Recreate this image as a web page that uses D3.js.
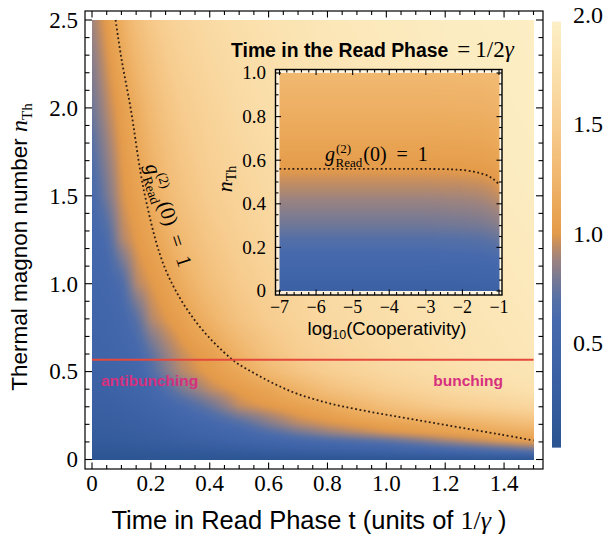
<!DOCTYPE html>
<html>
<head>
<meta charset="utf-8">
<script src="https://cdn.jsdelivr.net/npm/d3@7"></script>
<style>
  body { margin: 0; background: #fff; }
  svg { display: block; }
</style>
</head>
<body>
<div id="chart"></div>
<script>
// ---- main density: g2, rows = nTh, cols = t ----
const tGrid = [0, 0.05, 0.1, 0.15, 0.2, 0.25, 0.3, 0.4, 0.5, 0.6, 0.7, 0.8, 1.0, 1.2, 1.5];
const nGrid = [0, 0.05, 0.1, 0.15, 0.2, 0.3, 0.4, 0.5, 0.6, 0.8, 1.0, 1.25, 1.5, 2.0, 2.5];
const gMain = [
  [0.05, 0.05, 0.05, 0.05, 0.05, 0.05, 0.05, 0.05, 0.05, 0.05, 0.05, 0.05, 0.05, 0.05, 0.05],
  [0.12, 0.12, 0.13, 0.14, 0.15, 0.16, 0.17, 0.2, 0.23, 0.27, 0.31, 0.36, 0.44, 0.55, 0.72],
  [0.19, 0.2, 0.21, 0.23, 0.25, 0.27, 0.3, 0.36, 0.42, 0.48, 0.54, 0.6, 0.7, 0.86, 1.05],
  [0.23, 0.24, 0.26, 0.28, 0.31, 0.34, 0.38, 0.46, 0.54, 0.66, 0.77, 0.86, 0.97, 1.05, 1.17],
  [0.27, 0.28, 0.3, 0.33, 0.36, 0.4, 0.45, 0.55, 0.66, 0.81, 0.92, 0.97, 1.06, 1.14, 1.32],
  [0.32, 0.33, 0.36, 0.4, 0.45, 0.52, 0.6, 0.75, 0.94, 1.0, 1.06, 1.13, 1.33, 1.48, 1.62],
  [0.36, 0.38, 0.42, 0.47, 0.55, 0.67, 0.79, 0.94, 1.02, 1.1, 1.22, 1.35, 1.52, 1.64, 1.76],
  [0.4, 0.42, 0.46, 0.52, 0.67, 0.81, 0.92, 1.02, 1.12, 1.28, 1.41, 1.51, 1.64, 1.72, 1.81],
  [0.43, 0.45, 0.5, 0.56, 0.72, 0.86, 0.95, 1.05, 1.22, 1.39, 1.5, 1.58, 1.68, 1.75, 1.84],
  [0.47, 0.5, 0.56, 0.7, 0.92, 0.99, 1.05, 1.22, 1.39, 1.5, 1.58, 1.64, 1.72, 1.78, 1.86],
  [0.5, 0.55, 0.64, 0.92, 0.99, 1.06, 1.16, 1.34, 1.47, 1.55, 1.61, 1.67, 1.74, 1.8, 1.88],
  [0.55, 0.63, 0.91, 1.0, 1.08, 1.17, 1.28, 1.43, 1.53, 1.61, 1.67, 1.71, 1.77, 1.83, 1.9],
  [0.6, 0.79, 0.97, 1.06, 1.16, 1.28, 1.37, 1.5, 1.58, 1.65, 1.7, 1.74, 1.8, 1.87, 1.92],
  [0.76, 0.92, 1.04, 1.16, 1.3, 1.4, 1.48, 1.58, 1.66, 1.71, 1.75, 1.79, 1.85, 1.9, 1.94],
  [0.88, 1.02, 1.18, 1.35, 1.45, 1.53, 1.59, 1.67, 1.72, 1.76, 1.8, 1.84, 1.88, 1.92, 1.95]
];

// g2 = 1 contour in the main plot
const contourT = [0.08, 0.1, 0.131, 0.18, 0.25, 0.35, 0.477, 0.55, 0.62, 0.7, 0.81, 0.93, 1.05, 1.16, 1.27, 1.39, 1.5];
const contourN = [2.5, 2.28, 2.0, 1.5, 1.08, 0.79, 0.568, 0.492, 0.43, 0.372, 0.318, 0.276, 0.24, 0.208, 0.176, 0.142, 0.108];
const thresholdN = 0.568;

// ---- inset density: rows = nTh, cols = log10(C) ----
const logC = [-7, -5, -3, -2, -1.5, -1.2, -1];
const nInset = [0, 0.1, 0.2, 0.3, 0.4, 0.5, 0.6, 0.7, 0.8, 0.9, 1.0];
const gInset = [
  [0.35, 0.35, 0.35, 0.35, 0.36, 0.37, 0.38],
  [0.5, 0.5, 0.5, 0.51, 0.52, 0.53, 0.55],
  [0.64, 0.64, 0.64, 0.65, 0.66, 0.68, 0.7],
  [0.77, 0.77, 0.77, 0.78, 0.79, 0.81, 0.83],
  [0.86, 0.86, 0.86, 0.87, 0.88, 0.9, 0.92],
  [0.95, 0.95, 0.95, 0.955, 0.965, 0.98, 1.01],
  [1.04, 1.04, 1.04, 1.045, 1.05, 1.065, 1.09],
  [1.11, 1.11, 1.11, 1.115, 1.12, 1.135, 1.16],
  [1.17, 1.17, 1.17, 1.175, 1.18, 1.19, 1.21],
  [1.22, 1.22, 1.22, 1.225, 1.23, 1.24, 1.26],
  [1.27, 1.27, 1.27, 1.275, 1.28, 1.29, 1.3]
];
const insetContourC = [-7, -5, -3, -2.3, -2, -1.7, -1.5, -1.3, -1.15, -1];
const insetContourN = [0.56, 0.56, 0.56, 0.558, 0.555, 0.548, 0.54, 0.528, 0.513, 0.49];

// ---- colour bar ----
const cbValues = [0, 0.35, 0.6, 0.7, 0.8, 0.88, 0.95, 1.0, 1.1, 1.25, 1.5, 1.75, 2.0];
const cbColors = ['#2a5390', '#3b61a4', '#4669ad', '#5570a6', '#7a7a92', '#9c8380', '#c48d60',
                  '#e49a49', '#e9a554', '#f0b66d', '#f7cd90', '#fbe1ae', '#fdf1ca'];

// tick labels
const xTicks = [0, 0.2, 0.4, 0.6, 0.8, 1.0, 1.2, 1.4];
const yTicks = [0, 0.5, 1.0, 1.5, 2.0, 2.5];
const cbTicks = [0.5, 1.0, 1.5, 2.0];
const insetYTicks = [0, 0.2, 0.4, 0.6, 0.8, 1.0];
const insetXTicks = [-7, -6, -5, -4, -3, -2, -1];

const SERIF = 'Liberation Serif, Times New Roman, serif';
const SANS = 'Liberation Sans, Arial, Helvetica, sans-serif';

const svg = d3.select('#chart').append('svg').attr('width', 611).attr('height', 540);

const x = d3.scaleLinear().domain([0, 1.5]).range([92, 533.5]);
const y = d3.scaleLinear().domain([0, 2.5]).range([459.5, 20]);
const xi = d3.scaleLinear().domain([-7, -1]).range([279.5, 499]);
const yi = d3.scaleLinear().domain([0, 1]).range([291, 73]);
const cy = d3.scaleLinear().domain([0, 2]).range([452, 15]);
const color = d3.scaleLinear().domain(cbValues).range(cbColors).interpolate(d3.interpolateRgb).clamp(true);
const lut = d3.range(512).map(k => d3.rgb(color(k / 511 * 2)));

const fmt = v => (v === 0 ? '0' : d3.format('.1f')(v));

// build a smooth density image from a value grid
function renderField(xs, ys, gx, gy, grid, blur) {
  const [px0, px1] = xs.range();
  const [py0, py1] = ys.range();
  const w = Math.round(px1 - px0), h = Math.round(py0 - py1), p = 8;
  const c1 = document.createElement('canvas');
  c1.width = w + 2 * p;
  c1.height = h + 2 * p;
  const ctx1 = c1.getContext('2d');
  const img = ctx1.createImageData(c1.width, c1.height);
  const rows = grid.map(r => d3.scaleLinear().domain(gx).range(r).clamp(true));
  for (let i = 0; i < c1.width; i++) {
    const u = xs.invert(Math.min(Math.max(px0 + i - p + 0.5, px0), px1));
    const col = d3.scaleLinear().domain(gy).range(rows.map(f => f(u))).clamp(true);
    for (let j = 0; j < c1.height; j++) {
      const v = col(ys.invert(Math.min(Math.max(py1 + j - p + 0.5, py1), py0)));
      const c = lut[Math.max(0, Math.min(511, Math.round(v / 2 * 511)))];
      const o = (j * c1.width + i) * 4;
      img.data[o] = c.r;
      img.data[o + 1] = c.g;
      img.data[o + 2] = c.b;
      img.data[o + 3] = 255;
    }
  }
  ctx1.putImageData(img, 0, 0);
  const c2 = document.createElement('canvas');
  c2.width = w;
  c2.height = h;
  const ctx2 = c2.getContext('2d');
  ctx2.filter = 'blur(' + blur + 'px)';
  ctx2.drawImage(c1, -p, -p);
  return { x: px0, y: py1, w: w, h: h, url: c2.toDataURL() };
}

function drawImage(f) {
  svg.append('image')
    .attr('x', f.x).attr('y', f.y)
    .attr('width', f.w).attr('height', f.h)
    .attr('preserveAspectRatio', 'none')
    .attr('href', f.url);
}

// g^(2)_Read(0) = 1
function mathLabel(g, size) {
  const gl = g.append('text').attr('font-family', SERIF).attr('font-style', 'italic')
    .attr('font-size', size).text('g');
  const wg = gl.node().getComputedTextLength();
  const sup = g.append('text').attr('font-family', SERIF).attr('font-size', size * 0.65)
    .attr('x', wg + 1).attr('y', -size * 0.42).text('(2)');
  const sub = g.append('text').attr('font-family', SERIF).attr('font-size', size * 0.65)
    .attr('x', wg + 0.5).attr('y', size * 0.3).text('Read');
  const ws = Math.max(sup.node().getComputedTextLength(), sub.node().getComputedTextLength());
  g.append('text').attr('font-family', SERIF).attr('font-size', size)
    .attr('x', wg + ws + 1.5).attr('xml:space', 'preserve').text('(0)  =  1');
}

// ---------------- main plot ----------------
drawImage(renderField(x, y, tGrid, nGrid, gMain, 2.5));

const line = d3.line().x(d => x(d[0])).y(d => y(d[1])).curve(d3.curveCatmullRom);
svg.append('path')
  .attr('d', line(d3.zip(contourT, contourN)))
  .attr('fill', 'none')
  .attr('stroke', '#2e1d12')
  .attr('stroke-width', 1.8)
  .attr('stroke-dasharray', '1.8,2.6');

svg.append('line')
  .attr('x1', x(0)).attr('x2', x(1.5))
  .attr('y1', y(thresholdN)).attr('y2', y(thresholdN))
  .attr('stroke', '#e5493b')
  .attr('stroke-width', 2);

svg.append('text').attr('x', 101).attr('y', 386)
  .attr('font-family', SANS).attr('font-weight', 'bold').attr('font-size', 15.5)
  .attr('fill', '#d6307f').text('antibunching');
svg.append('text').attr('x', 503).attr('y', 386).attr('text-anchor', 'end')
  .attr('font-family', SANS).attr('font-weight', 'bold').attr('font-size', 15.5)
  .attr('fill', '#d6307f').text('bunching');

mathLabel(svg.append('g').attr('transform', 'translate(145,166) rotate(71.6)'), 21);

// frame and ticks
const frame = { l: 85, r: 543, t: 11, b: 469 };
svg.append('rect')
  .attr('x', frame.l).attr('y', frame.t)
  .attr('width', frame.r - frame.l).attr('height', frame.b - frame.t)
  .attr('fill', 'none').attr('stroke', '#000').attr('stroke-width', 1.2);

const ticks = svg.append('g').attr('stroke', '#000').attr('stroke-width', 1.1);
d3.range(0, 1.5001, 0.05).forEach(t => {
  const len = Math.abs(t / 0.2 - Math.round(t / 0.2)) < 1e-6 ? 6.5 : 4;
  ticks.append('line').attr('x1', x(t)).attr('x2', x(t)).attr('y1', frame.b).attr('y2', frame.b - len);
  ticks.append('line').attr('x1', x(t)).attr('x2', x(t)).attr('y1', frame.t).attr('y2', frame.t + len);
});
d3.range(0, 2.5001, 0.1).forEach(n => {
  const len = Math.abs(n / 0.5 - Math.round(n / 0.5)) < 1e-6 ? 7 : 4.5;
  ticks.append('line').attr('x1', frame.l).attr('x2', frame.l + len).attr('y1', y(n)).attr('y2', y(n));
  ticks.append('line').attr('x1', frame.r).attr('x2', frame.r - len).attr('y1', y(n)).attr('y2', y(n));
});

svg.append('g').selectAll('text').data(xTicks).join('text')
  .attr('x', d => x(d)).attr('y', 491).attr('text-anchor', 'middle')
  .attr('font-family', SERIF).attr('font-size', 23).text(fmt);
svg.append('g').selectAll('text').data(yTicks).join('text')
  .attr('x', 78).attr('y', d => y(d)).attr('dy', '0.34em').attr('text-anchor', 'end')
  .attr('font-family', SERIF).attr('font-size', 23).text(fmt);

// axis titles
const xt = svg.append('text').attr('x', 309).attr('y', 529).attr('text-anchor', 'middle')
  .attr('font-family', SANS).attr('font-size', 25.5);
xt.append('tspan').text('Time in Read Phase t (units of ');
xt.append('tspan').attr('font-family', SERIF).attr('font-size', 26).text('1/');
xt.append('tspan').attr('font-family', SERIF).attr('font-style', 'italic').attr('font-size', 26).text('γ');
xt.append('tspan').text(' )');

const yt = svg.append('text').attr('transform', 'translate(27,247) rotate(-90)')
  .attr('text-anchor', 'middle').attr('font-family', SANS).attr('font-size', 22.5);
yt.append('tspan').text('Thermal magnon number ');
yt.append('tspan').attr('font-family', SERIF).attr('font-style', 'italic').attr('font-size', 24).text('n');
yt.append('tspan').attr('font-family', SERIF).attr('font-size', 15).attr('dy', 5).text('Th');

// ---------------- colour bar ----------------
const defs = svg.append('defs');
const grad = defs.append('linearGradient').attr('id', 'cbgrad')
  .attr('x1', 0).attr('x2', 0).attr('y1', 1).attr('y2', 0);
const cbLo = 0.02, cbHi = 1.97;
d3.range(0, 1.0001, 0.02).forEach(f => {
  grad.append('stop').attr('offset', f).attr('stop-color', color(cbLo + f * (cbHi - cbLo)));
});
svg.append('rect')
  .attr('x', 552).attr('y', cy(cbHi))
  .attr('width', 9).attr('height', cy(cbLo) - cy(cbHi))
  .attr('fill', 'url(#cbgrad)');
svg.append('g').selectAll('text').data(cbTicks).join('text')
  .attr('x', 573).attr('y', d => cy(d)).attr('dy', '0.34em')
  .attr('font-family', SERIF).attr('font-size', 24).text(fmt);

// ---------------- inset ----------------
const inset = { l: 275.5, r: 502, t: 69.5, b: 295 };
svg.append('rect')
  .attr('x', inset.l).attr('y', inset.t)
  .attr('width', inset.r - inset.l).attr('height', inset.b - inset.t)
  .attr('fill', '#fff').attr('fill-opacity', 0.6);
drawImage(renderField(xi, yi, logC, nInset, gInset, 2));

const lineI = d3.line().x(d => xi(d[0])).y(d => yi(d[1])).curve(d3.curveCatmullRom);
svg.append('path')
  .attr('d', lineI(d3.zip(insetContourC, insetContourN)))
  .attr('fill', 'none')
  .attr('stroke', '#2e1d12')
  .attr('stroke-width', 1.8)
  .attr('stroke-dasharray', '1.8,2.6');

mathLabel(svg.append('g').attr('transform', 'translate(325,161)'), 20);

svg.append('rect')
  .attr('x', inset.l).attr('y', inset.t)
  .attr('width', inset.r - inset.l).attr('height', inset.b - inset.t)
  .attr('fill', 'none').attr('stroke', '#000').attr('stroke-width', 1.4);

const ticksI = svg.append('g').attr('stroke', '#000').attr('stroke-width', 1.1);
d3.range(-7, -0.9999, 0.2).forEach(c => {
  const len = Math.abs(c - Math.round(c)) < 1e-6 ? 5.5 : 3;
  ticksI.append('line').attr('x1', xi(c)).attr('x2', xi(c)).attr('y1', inset.b).attr('y2', inset.b - len);
  ticksI.append('line').attr('x1', xi(c)).attr('x2', xi(c)).attr('y1', inset.t).attr('y2', inset.t + len);
});
d3.range(0, 1.0001, 0.05).forEach(n => {
  const len = Math.abs(n / 0.2 - Math.round(n / 0.2)) < 1e-6 ? 5.5 : 3;
  ticksI.append('line').attr('x1', inset.l).attr('x2', inset.l + len).attr('y1', yi(n)).attr('y2', yi(n));
  ticksI.append('line').attr('x1', inset.r).attr('x2', inset.r - len).attr('y1', yi(n)).attr('y2', yi(n));
});

svg.append('g').selectAll('text').data(insetYTicks).join('text')
  .attr('x', 266).attr('y', d => yi(d)).attr('dy', '0.34em').attr('text-anchor', 'end')
  .attr('font-family', SERIF).attr('font-size', 19).text(fmt);
svg.append('g').selectAll('text').data(insetXTicks).join('text')
  .attr('x', d => xi(d)).attr('y', 313).attr('text-anchor', 'middle')
  .attr('font-family', SERIF).attr('font-size', 18).text(d3.format('d'));

const lx = svg.append('text').attr('x', 387).attr('y', 335).attr('text-anchor', 'middle')
  .attr('font-family', SANS).attr('font-size', 18.5);
lx.append('tspan').text('log');
lx.append('tspan').attr('font-size', 12.5).attr('dy', 4).text('10');
lx.append('tspan').attr('dy', -4).text('(Cooperativity)');

const ly = svg.append('text').attr('transform', 'translate(232,179) rotate(-90)')
  .attr('text-anchor', 'middle').attr('font-family', SERIF);
ly.append('tspan').attr('font-style', 'italic').attr('font-size', 22).text('n');
ly.append('tspan').attr('font-size', 14).attr('dy', 4).text('Th');

const title = svg.append('text').attr('x', 231).attr('y', 57);
title.append('tspan').attr('font-family', SANS).attr('font-weight', 'bold').attr('font-size', 19.4)
  .text('Time in the Read Phase');
title.append('tspan').attr('font-family', SERIF).attr('font-size', 23).attr('dx', 9).text('=');
title.append('tspan').attr('font-family', SERIF).attr('font-size', 23).attr('dx', 5).text('1/2');
title.append('tspan').attr('font-family', SERIF).attr('font-style', 'italic').attr('font-size', 23).text('γ');
</script>
</body>
</html>
